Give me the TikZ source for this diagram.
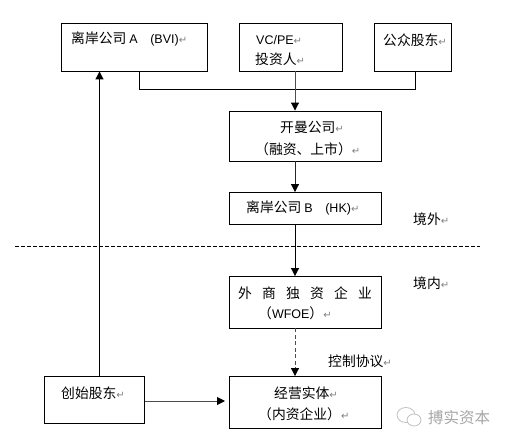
\documentclass[tikz,border=0pt]{standalone}
\usepackage{fontspec}
\setmainfont{Liberation Sans}
\newfontfamily\cjk{Noto Sans CJK SC}
\newfontfamily\symf{DejaVu Sans}
\usetikzlibrary{arrows.meta}
\newcommand{\ret}{{\symf\fontsize{10}{10}\selectfont\color{black!50}↵}}
\newcommand{\latn}{\rmfamily\fontsize{12.5}{14}\selectfont}
\tikzset{
  box/.style={draw,line width=0.9pt,inner sep=0pt},
  txt/.style={anchor=west,inner sep=0pt,font=\cjk\fontsize{13.8}{15}\selectfont},
  arr/.style={-{Triangle[length=8pt,width=8pt,black]},line width=1pt}
}
\begin{document}
\begin{tikzpicture}[x=1pt,y=-1pt]
\useasboundingbox (0,0) rectangle (506,441);
% boxes
\node[box,minimum width=146pt,minimum height=47.5pt] (offa) at (134.5,47.25) {};
\node[box,minimum width=103.5pt,minimum height=47.5pt] (vc) at (290.75,47.25) {};
\node[box,minimum width=77pt,minimum height=47.5pt] (pub) at (413,47.25) {};
\node[box,minimum width=151.5pt,minimum height=50pt] (cayman) at (305.25,136) {};
\node[box,minimum width=152pt,minimum height=32pt] (offb) at (305.5,208.5) {};
\node[box,minimum width=152pt,minimum height=51.5pt] (wfoe) at (305.5,302.25) {};
\node[box,minimum width=152pt,minimum height=51.5pt] (entity) at (305.5,402.25) {};
\node[box,minimum width=100pt,minimum height=46.5pt] (founder) at (94.5,399.75) {};
% texts
\node[txt] (offat) at (71,39) {离岸公司 {\latn A\hspace{12.5pt}(BVI)}\ret};
\node[txt] (vct) at (256,40) {{\latn VC/PE}\ret};
\node[txt] (vcb) at (255,59) {投资人\ret};
\node[txt] (pubt) at (383,40) {公众股东\ret};
\node[txt] (caymant) at (280,127) {开曼公司\ret};
\node[txt] (caymanb) at (255,149) {（融资、上市）\ret};
\node[txt] (offbt) at (246,208) {离岸公司 {\latn B\hspace{12.5pt}(HK)}\ret};
\node[txt] (wfoet) at (238,293) {外\hspace{10.2pt}商\hspace{10.2pt}独\hspace{10.2pt}资\hspace{10.2pt}企\hspace{10.2pt}业};
\node[txt] (wfoeb) at (258,313) {（{\latn WFOE}）\ret};
\node[txt] (entityt) at (274,393) {经营实体\ret};
\node[txt] (entityb) at (258,414) {（内资企业）\ret};
\node[txt] (foundert) at (61,393) {创始股东\ret};
\node[txt] (outer) at (413,219) {境外\ret};
\node[txt] (inner) at (413,283) {境内\ret};
\node[txt] (ctrl) at (328,361) {控制协议\ret};
% connectors
\coordinate (busl) at (139.5,89);
\coordinate (busr) at (415.5,89);
\coordinate (trunk) at (295,89);
\coordinate (up) at (99.5,300);
\coordinate (bdl) at (15,246);
\coordinate (bdr) at (480,246);
\draw[line width=0.9pt] (offa.south -| busl) |- (busr) -- (pub.south -| busr);
\draw[arr,black!70] (vc.south -| trunk) -- (cayman.north -| trunk);
\draw[arr,black!85] (cayman.south -| trunk) -- (offb.north -| trunk);
\draw[arr] (offb.south -| trunk) -- (wfoe.north -| trunk);
\draw[arr,black!70,dash pattern=on 4pt off 2.5pt] (wfoe.south -| trunk) -- (entity.north -| trunk);
\draw[arr] (founder.north -| up) -- (offa.south -| up);
\draw[arr,black!70] (founder.east |- 0,401) -- (225,401);
\draw[dash pattern=on 3.5pt off 2.5pt,line width=0.8pt] (bdl) -- (bdr);
% watermark
\draw[black!25,line width=0.8pt] (406,415) ellipse (9pt and 7.5pt);
\draw[black!25,line width=0.8pt,fill=white] (414,420) ellipse (7pt and 6pt);
\node[txt,black!35,font=\cjk\fontsize{15.5}{17}\selectfont] (brand) at (428,418) {搏实资本};
\end{tikzpicture}
\end{document}
